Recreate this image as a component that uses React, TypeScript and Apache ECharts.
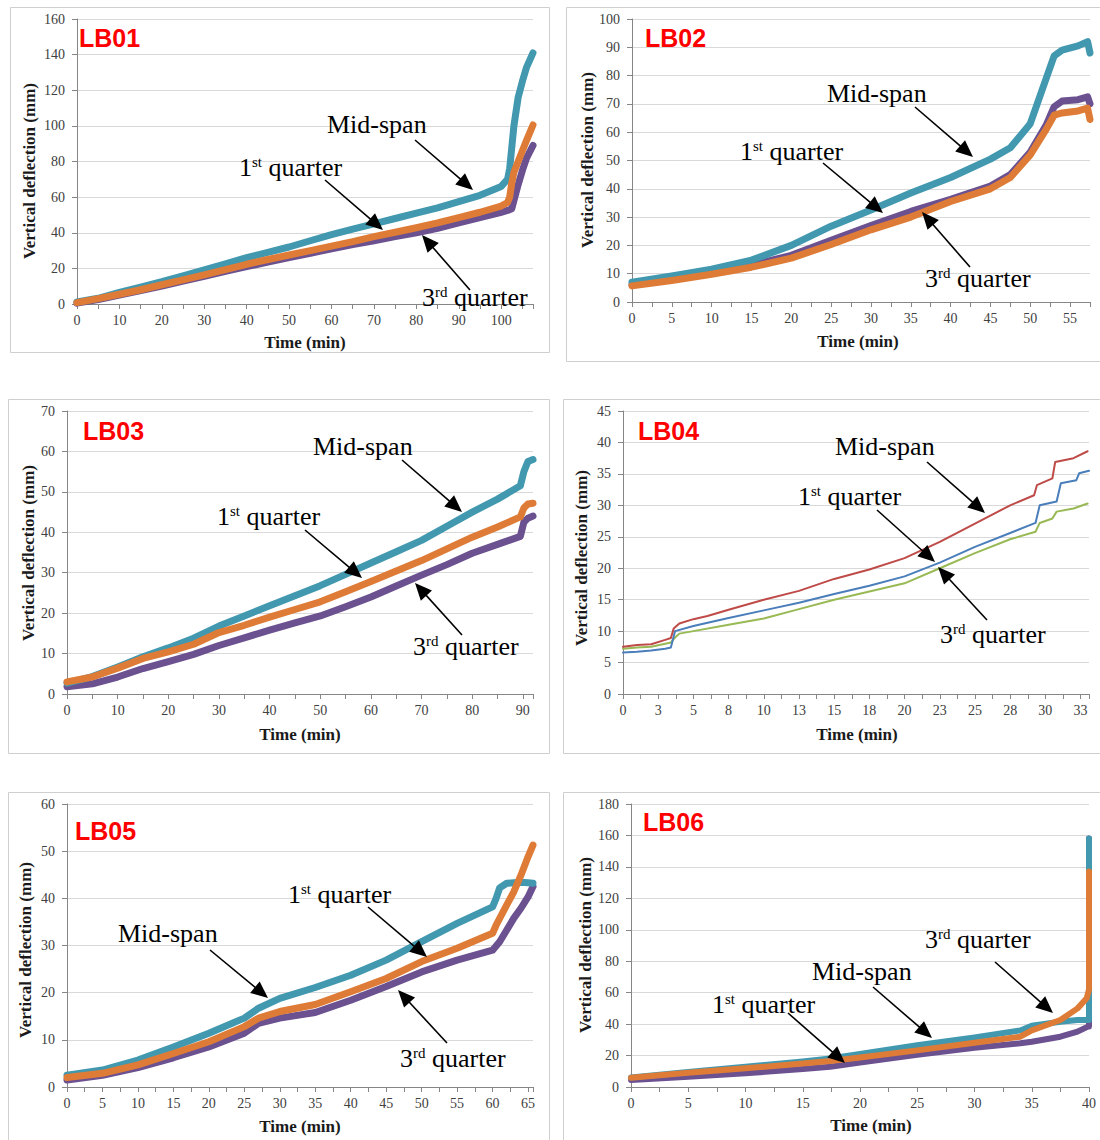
import React, { useEffect, useRef } from 'react';
import * as echarts from 'echarts';

type P = [number, number];

// ---- Data (time min, deflection mm) ----
const lb01Mid: P[] = [[0,1.2],[5,3.2],[10,6.5],[15,9.5],[20,12.5],[25,15.8],[30,19.2],[35,22.5],[40,26],[45,29],[50,32],[55,35.5],[60,39],[65,42],[70,45],[75,48],[80,51],[85,54],[90,57.5],[95,61],[100,66],[101.5,70],[102,76],[102.5,88],[103,100],[104,116],[105,125],[106,133],[107.5,141]];
const lb01First: P[] = [[0,0.8],[5,3],[10,5.5],[15,8],[20,10.8],[25,13.5],[30,16.3],[35,19.3],[40,22.3],[45,25],[50,27.5],[55,30],[60,32.5],[65,35],[70,37.8],[75,40.3],[80,42.8],[85,45.5],[90,48.5],[95,51.5],[100,55],[101.5,57],[102,60],[102.5,68],[103,74],[104,80],[105,86],[106,92],[107.5,100.5]];
const lb01Third: P[] = [[0,0.5],[5,2.5],[10,5],[15,7.5],[20,10],[25,12.8],[30,15.5],[35,18.3],[40,21],[45,23.5],[50,26],[55,28.5],[60,31],[65,33.3],[70,35.5],[75,37.8],[80,40],[85,42.5],[90,45.5],[95,48.5],[100,51.5],[101.5,52.5],[102.5,53.5],[103,58],[104,67],[105,75],[106,82],[107.5,89]];

const lb02Mid: P[] = [[0,7],[5,9.2],[10,11.6],[15,14.8],[20,20],[25,26.8],[30,32.5],[35,38.5],[40,44],[45,50.5],[47.5,54.5],[50,63],[52,79],[53,87],[54,89],[56,90.5],[57.2,92],[57.5,88]];
const lb02First: P[] = [[0,5.7],[5,7.6],[10,9.8],[15,12.3],[20,15.5],[25,20.3],[30,25.5],[35,30],[40,35.5],[45,40],[47.5,44],[50,52],[52,61],[53,66],[54,66.8],[56,67.5],[57.2,68.5],[57.5,64.5]];
const lb02Third: P[] = [[0,6],[5,7.9],[10,10.2],[15,13],[20,16.5],[25,21.8],[30,27],[35,32],[40,36.3],[45,41],[47.5,45],[50,53],[52,62.5],[53,69],[54,71],[56,71.5],[57.2,72.5],[57.5,70]];

const lb03Mid: P[] = [[0,2.7],[5,4.3],[10,6.7],[15,9.2],[20,11.4],[25,13.8],[30,16.8],[35,19.3],[40,21.8],[45,24.3],[50,26.8],[55,29.6],[60,32.4],[65,35.2],[70,38],[75,41.5],[80,45],[85,48.2],[89.5,51.5],[90.2,55],[91,57.5],[92,58]];
const lb03First: P[] = [[0,3],[5,4.2],[10,6.4],[15,8.8],[20,10.4],[25,12.3],[30,15.2],[35,17],[40,19],[45,20.9],[50,22.8],[55,25.3],[60,27.8],[65,30.4],[70,33],[75,35.9],[80,38.8],[85,41.3],[89.5,43.8],[90.2,46],[91,47],[92,47.2]];
const lb03Third: P[] = [[0,1.8],[5,2.5],[10,4.2],[15,6.3],[20,8],[25,9.8],[30,12],[35,13.9],[40,15.8],[45,17.6],[50,19.3],[55,21.6],[60,24],[65,26.7],[70,29.4],[75,32],[80,34.8],[85,37],[89.5,39],[90.2,42.5],[91,43.5],[92,44]];

const lb04Mid: P[] = [[0,7.5],[1,7.8],[2,7.9],[3,8.6],[3.4,8.9],[3.6,10.4],[4,11.2],[5,11.9],[6,12.4],[7.5,13.4],[10,15],[12.5,16.4],[15,18.3],[17.5,19.8],[20,21.6],[22.5,24.2],[25,27.1],[27.5,30],[29.2,31.6],[29.4,33.2],[30.5,34.3],[30.7,36.9],[32,37.5],[33,38.6]];
const lb04First: P[] = [[0,6.6],[1,6.7],[2,6.9],[3,7.2],[3.4,7.4],[3.7,10],[5,10.8],[7.5,12.1],[10,13.3],[12.5,14.5],[15,15.9],[17.5,17.2],[20,18.7],[22.5,20.9],[25,23.4],[27.5,25.6],[29.3,27.2],[29.6,30],[30.8,30.6],[31.1,33.5],[32.2,34],[32.4,35.1],[33.1,35.5]];
const lb04Third: P[] = [[0,7.2],[1,7.4],[2,7.5],[3,8],[3.4,8.2],[3.7,9],[4,9.6],[5,10],[7.5,11],[10,12],[12.5,13.5],[15,15],[17.5,16.3],[20,17.6],[22.5,20],[25,22.4],[27.5,24.6],[29.3,25.8],[29.6,27.2],[30.5,27.9],[30.8,29],[32,29.5],[33,30.3]];

const lb05Mid: P[] = [[0,2.5],[5,3.6],[10,5.7],[15,8.5],[20,11.4],[25,14.6],[27,16.7],[30,18.8],[35,21.1],[40,23.7],[45,26.9],[50,30.8],[55,34.7],[60,38.2],[60.5,40],[61,42.2],[62,43.2],[63,43.3],[64,43.4],[65,43.3],[65.7,43.2]];
const lb05First: P[] = [[0,2],[5,2.9],[10,4.7],[15,7.1],[20,9.6],[25,12.8],[27,14.6],[30,16],[35,17.5],[40,20.2],[45,23],[50,26.6],[55,29.4],[60,32.6],[60.5,34.3],[62,38.6],[63,41.4],[64,44.9],[65,48.8],[65.7,51.3]];
const lb05Third: P[] = [[0,1.5],[5,2.5],[10,4.1],[15,6.2],[20,8.5],[25,11.4],[27,13.5],[30,14.6],[35,15.8],[40,18.4],[45,21.3],[50,24.4],[55,26.9],[60,29],[61,30.8],[62,33.3],[63,35.8],[64,37.9],[65,40.3],[65.7,42.5]];

const lb06Mid: P[] = [[0,6],[5,9.5],[10,12.9],[15,16.3],[17.4,18.2],[20,21],[25,26.5],[30,31.5],[34,36],[35,39],[37.5,41.5],[39,42.6],[39.9,42.6],[40,42.6],[40,158]];
const lb06First: P[] = [[0,5.9],[5,9],[10,11.9],[15,15],[17.4,16.5],[20,18.7],[25,23.3],[30,28.2],[34,32],[35,36],[37.5,42.6],[39,50],[39.8,56.4],[40,62],[40,137]];
const lb06Third: P[] = [[0,4.5],[5,6.5],[10,8.7],[15,11.5],[17.4,12.9],[20,15.5],[25,20.5],[30,25],[34,27.8],[35,28.8],[37.5,32],[39,35.2],[39.9,38.4],[40,38.5],[40,158]];

// ---- Styling ----
const SERIF = '"Liberation Serif", "Times New Roman", serif';
const SANS = '"Liberation Sans", Arial, sans-serif';
const TEAL = '#4198AF';
const ORANGE = '#DE7C37';
const PURPLE = '#6B518F';
const RED = '#BE4B48';
const BLUE = '#4A7EBB';
const GREEN = '#98B954';

type Pt = [number, number];
interface Panel {
  name: string;
  grid: { left: number; top: number; width: number; height: number };
  xMax: number; xTick: number; xStep: number;
  yMax: number; yStep: number;
  lw: number;
  series: { data: P[]; color: string }[];
  box: [number, number, number, number];
  label: Pt; yTitle: Pt; xTitle: Pt;
  mid: Pt; first: Pt; third: Pt;
  arrows: [number, number, number, number][];
}

const panels: Panel[] = [
  { name: 'LB01', grid: { left: 77, top: 19, width: 456, height: 285 }, xMax: 107.5, xTick: 5, xStep: 10, yMax: 160, yStep: 20, lw: 7,
    series: [{ data: lb01Third, color: PURPLE }, { data: lb01Mid, color: TEAL }, { data: lb01First, color: ORANGE }],
    box: [10, 7, 539, 345], label: [79, 38], yTitle: [29, 171], xTitle: [305, 342],
    mid: [327, 124.5], first: [239, 167], third: [422, 297],
    arrows: [[415, 140, 473, 190], [325, 180, 383, 230], [470, 290, 422, 235]] },
  { name: 'LB02', grid: { left: 632, top: 19, width: 458, height: 283 }, xMax: 57.5, xTick: 2.5, xStep: 5, yMax: 100, yStep: 10, lw: 7,
    series: [{ data: lb02Third, color: PURPLE }, { data: lb02Mid, color: TEAL }, { data: lb02First, color: ORANGE }],
    box: [566, 7, 545, 354], label: [645, 38], yTitle: [587, 160], xTitle: [858, 341],
    mid: [827, 93], first: [740, 151], third: [925, 278],
    arrows: [[915, 107, 973, 157], [823, 163, 883, 213], [970, 267, 922, 212]] },
  { name: 'LB03', grid: { left: 67, top: 411, width: 466, height: 283 }, xMax: 92, xTick: 5, xStep: 10, yMax: 70, yStep: 10, lw: 7,
    series: [{ data: lb03Third, color: PURPLE }, { data: lb03Mid, color: TEAL }, { data: lb03First, color: ORANGE }],
    box: [8, 399, 541, 354], label: [83, 431], yTitle: [28.5, 553], xTitle: [300, 734],
    mid: [313, 446], first: [217, 516], third: [413, 646],
    arrows: [[402, 460, 462, 512], [305, 530, 362, 578], [462, 635, 415, 583]] },
  { name: 'LB04', grid: { left: 623, top: 411, width: 466, height: 283 }, xMax: 33.1, xTick: 1.25, xStep: 2.5, yMax: 45, yStep: 5, lw: 2,
    series: [{ data: lb04Third, color: GREEN }, { data: lb04First, color: BLUE }, { data: lb04Mid, color: RED }],
    box: [563, 399, 545, 354], label: [638, 431], yTitle: [581, 558], xTitle: [857, 734],
    mid: [835, 446], first: [798, 496], third: [940, 634],
    arrows: [[927, 462, 985, 513], [877, 510, 935, 562], [987, 620, 938, 567]] },
  { name: 'LB05', grid: { left: 67, top: 804, width: 466, height: 283 }, xMax: 65.7, xTick: 2.5, xStep: 5, yMax: 60, yStep: 10, lw: 7,
    series: [{ data: lb05Third, color: PURPLE }, { data: lb05Mid, color: TEAL }, { data: lb05First, color: ORANGE }],
    box: [8, 792, 541, 360], label: [75, 831], yTitle: [25, 950], xTitle: [300, 1126],
    mid: [118, 933], first: [288, 894], third: [400, 1058],
    arrows: [[210, 950, 268, 998], [368, 907, 427, 957], [447, 1043, 398, 990]] },
  { name: 'LB06', grid: { left: 631, top: 804, width: 458, height: 283 }, xMax: 40, xTick: 2.5, xStep: 5, yMax: 180, yStep: 20, lw: 6,
    series: [{ data: lb06Third, color: PURPLE }, { data: lb06Mid, color: TEAL }, { data: lb06First, color: ORANGE }],
    box: [563, 792, 545, 360], label: [643, 822], yTitle: [585, 945], xTitle: [871, 1125],
    mid: [812, 971], first: [712, 1004], third: [925, 939],
    arrows: [[788, 1013, 845, 1063], [873, 987, 932, 1038], [995, 962, 1053, 1013]] },
];

function arrow(x1: number, y1: number, x2: number, y2: number): any[] {
  const dx = x2 - x1, dy = y2 - y1;
  const len = Math.sqrt(dx * dx + dy * dy);
  const ux = dx / len, uy = dy / len;
  const nx = -uy, ny = ux;
  const hl = 17, hw = 7.5;
  const bx = x2 - ux * hl, by = y2 - uy * hl;
  return [
    { type: 'line', shape: { x1, y1, x2: bx + ux * 2, y2: by + uy * 2 }, style: { stroke: '#000', lineWidth: 1.6 }, z: 100 },
    { type: 'polygon', shape: { points: [[x2, y2], [bx + nx * hw, by + ny * hw], [bx - nx * hw, by - ny * hw]] }, style: { fill: '#000' }, z: 100 },
  ];
}

const richStyles = {
  n: { fontSize: 26, fontFamily: SERIF, fill: '#000' },
  s: { fontSize: 15, fontFamily: SERIF, fill: '#000', verticalAlign: 'top', padding: [0, 0, 4, 0] },
};

function note(x: number, y: number, text: string): any {
  return { type: 'text', x, y, z: 100, style: { text, align: 'left', verticalAlign: 'middle', rich: richStyles, fontSize: 26, fontFamily: SERIF, fill: '#000' } };
}

export default function App() {
  const ref = useRef<HTMLDivElement>(null);
  useEffect(() => {
    document.body.style.margin = '0';
    if (!ref.current) return;
    const chart = echarts.init(ref.current, undefined, { renderer: 'svg' });

    const grids: any[] = [];
    const xAxes: any[] = [];
    const yAxes: any[] = [];
    const series: any[] = [];
    const graphic: any[] = [];

    panels.forEach((p, i) => {
      grids.push({ ...p.grid, containLabel: false });
      const step = p.xStep;
      xAxes.push({
        type: 'value', gridIndex: i, min: 0, max: p.xMax, interval: p.xTick,
        axisLine: { show: true, lineStyle: { color: '#868686', width: 1 } },
        axisTick: { show: true, inside: false, length: 5, lineStyle: { color: '#868686' } },
        splitLine: { show: false },
        axisLabel: {
          margin: 9, fontSize: 14, fontFamily: SERIF, color: '#404040',
          formatter: (v: number) => {
            const k = v / step;
            return Math.abs(k - Math.round(k)) < 1e-6 ? String(Math.round(v)) : '';
          },
        },
      });
      yAxes.push({
        type: 'value', gridIndex: i, min: 0, max: p.yMax, interval: p.yStep,
        axisLine: { show: true, lineStyle: { color: '#868686', width: 1 } },
        axisTick: { show: true, inside: false, length: 5, lineStyle: { color: '#868686' } },
        splitLine: { show: true, lineStyle: { color: '#d9d9d9', width: 1 } },
        axisLabel: { margin: 12, fontSize: 14, fontFamily: SERIF, color: '#404040' },
      });
      p.series.forEach((s) => {
        series.push({
          type: 'line', xAxisIndex: i, yAxisIndex: i, data: s.data, showSymbol: false, symbol: 'none',
          lineStyle: { color: s.color, width: p.lw, join: 'round', cap: 'round' }, itemStyle: { color: s.color },
        });
      });
      graphic.push({ type: 'rect', shape: { x: p.box[0] + 0.5, y: p.box[1] + 0.5, width: p.box[2], height: p.box[3] }, style: { fill: 'none', stroke: '#cfcfcf', lineWidth: 1 }, z: 0 });
      graphic.push({ type: 'text', x: p.label[0], y: p.label[1], z: 100, style: { text: p.name, fontSize: 25, fontWeight: 'bold', fontFamily: SANS, fill: '#FF0000', align: 'left', verticalAlign: 'middle' } });
      graphic.push({ type: 'text', x: p.yTitle[0], y: p.yTitle[1], rotation: Math.PI / 2, z: 100, style: { text: 'Vertical deflection (mm)', fontSize: 17, fontWeight: 'bold', fontFamily: SERIF, fill: '#1a1a1a', align: 'center', verticalAlign: 'middle' } });
      graphic.push({ type: 'text', x: p.xTitle[0], y: p.xTitle[1], z: 100, style: { text: 'Time (min)', fontSize: 17, fontWeight: 'bold', fontFamily: SERIF, fill: '#1a1a1a', align: 'center', verticalAlign: 'middle' } });
      graphic.push(note(p.mid[0], p.mid[1], '{n|Mid-span}'));
      graphic.push(note(p.first[0], p.first[1], '{n|1}{s|st}{n| quarter}'));
      graphic.push(note(p.third[0], p.third[1], '{n|3}{s|rd}{n| quarter}'));
      p.arrows.forEach((a) => graphic.push(...arrow(a[0], a[1], a[2], a[3])));
    });

    chart.setOption({
      animation: false,
      backgroundColor: '#ffffff',
      grid: grids,
      xAxis: xAxes,
      yAxis: yAxes,
      series,
      graphic,
    });
    return () => chart.dispose();
  }, []);
  return <div ref={ref} style={{ width: 1100, height: 1140 }} />;
}
